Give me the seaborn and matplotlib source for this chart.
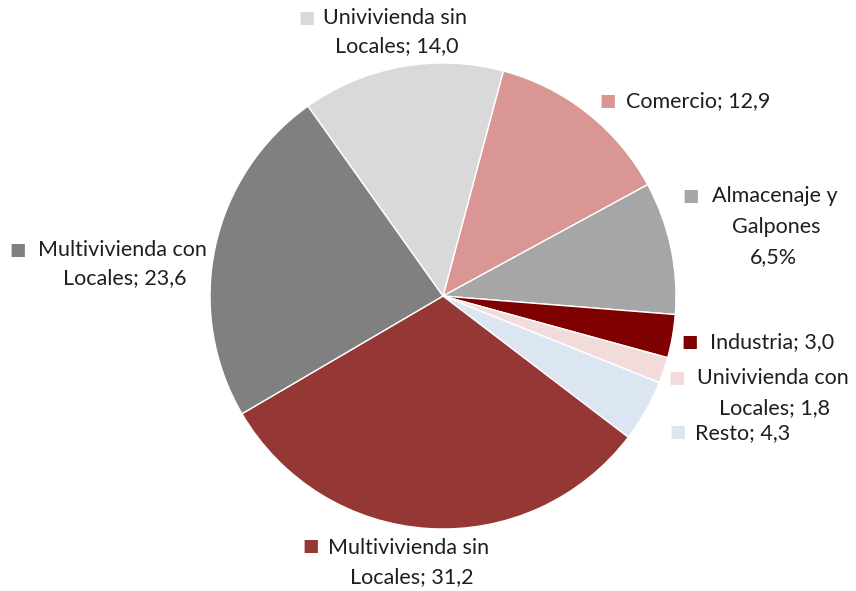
import matplotlib
matplotlib.use("Agg")
import matplotlib.pyplot as plt
import seaborn as sns

sns.set_style("white")
plt.rcParams['font.family'] = ['Lato', 'DejaVu Sans']

# Data (clockwise from top-right)
categories = ["Comercio", "Almacenaje y Galpones", "Industria", "Univivienda con Locales",
              "Resto", "Multivivienda sin Locales", "Multivivienda con Locales", "Univivienda sin Locales"]
values = [12.9, 9.2, 3.0, 1.8, 4.3, 31.2, 23.6, 14.0]
colors = ["#D99694", "#A6A6A6", "#7F0000", "#F2DCDB", "#DCE6F2", "#953735", "#808080", "#D9D9D9"]
label_lines = [
    ["Comercio; 12,9"],
    ["Almacenaje y", "Galpones", "6,5%"],
    ["Industria; 3,0"],
    ["Univivienda con", "Locales; 1,8"],
    ["Resto; 4,3"],
    ["Multivivienda sin", "Locales; 31,2"],
    ["Multivivienda con", "Locales; 23,6"],
    ["Univivienda sin", "Locales; 14,0"],
]

W, H = 856, 591
fig = plt.figure(figsize=(W / 100, H / 100), dpi=100)
ax = fig.add_axes([0, 0, 1, 1])

ax.pie(values, colors=colors, startangle=75, counterclock=False,
       center=(443, H - 296), radius=233, frame=True,
       wedgeprops=dict(edgecolor="white", linewidth=1))
ax.set_xlim(0, W)
ax.set_ylim(0, H)
ax.axis("off")

# label layout: (square x, square y, [(line x, line y, ha), ...]) in pixel coords from top
layout = [
    (608, 101, [(626, 101, "left")]),
    (691, 196, [(712, 196, "left"), (776, 227, "center"), (773, 257, "center")]),
    (690, 342, [(710, 342, "left")]),
    (677, 378, [(697, 378, "left"), (775, 408, "center")]),
    (678, 432, [(695, 433, "left")]),
    (311, 546, [(328, 548, "left"), (412, 577, "center")]),
    (18, 250, [(38, 250, "left"), (125, 278, "center")]),
    (307, 18, [(323, 18, "left"), (397, 46, "center")]),
]

fs = 15.5
for col, lines, (sx, sy, pos) in zip(colors, label_lines, layout):
    ax.text(sx, H - sy, "■", color=col, fontsize=12.5, ha="center", va="center",
            family="DejaVu Sans")
    for txt, (lx, ly, ha) in zip(lines, pos):
        ax.text(lx, H - ly, txt, fontsize=fs, color="#1f1f1f", ha=ha, va="center")

fig.savefig("out.png", dpi=100, facecolor="white")
